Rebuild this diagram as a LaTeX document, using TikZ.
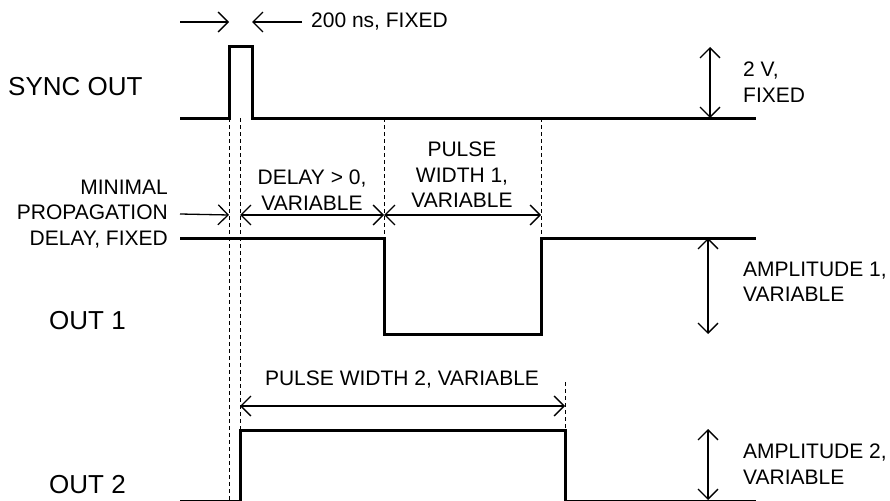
\documentclass[tikz,border=0pt]{standalone}
\usepackage{fontspec}
\setmainfont{Liberation Sans}
\usetikzlibrary{arrows.meta}
\usetikzlibrary{positioning}
\tikzset{
	wave/.style={line width=3pt, line join=miter},
	guide/.style={line width=0.9pt, dash pattern=on 4pt off 3pt},
	dim/.style={line width=1.3pt},
	barb/.tip={Straight Barb[length=10pt 0, width=20pt 0, line width=1.3pt]},
	dimto/.style={dim, -barb},
	dimboth/.style={dim, barb-barb},
	siglabel/.style={font=\fontsize{26}{30}\selectfont, inner sep=0pt, anchor=west},
	note/.style={font=\fontsize{21}{25.5}\selectfont, inner sep=0pt}
}

\begin{document}
\begin{tikzpicture}[x=1pt, y=-1pt]
		\useasboundingbox (0,0) rectangle (890,500);
		% waveforms
		\draw[wave] (180,118) -- (229,118) -- (229,47) -- (252,47) -- (252,118) -- (756,118);
		\draw[wave] (180,238) -- (384,238) -- (384,334) -- (541,334) -- (541,238) -- (756,238);
		\draw[wave] (180,501) -- (240,501) -- (240,430) -- (565,430) -- (565,501) -- (756,501);
		% timing marks
		\coordinate (t0) at (229,118);
		\coordinate (t1) at (240,118);
		\coordinate (t2) at (384,118);
		\coordinate (t3) at (541,118);
		\draw[guide] (t0) -- (229,500);
		\draw[guide] (t1) -- (240,430);
		\draw[guide] (t2) -- (384,238);
		\draw[guide] (t3) -- (541,238);
		\draw[guide] (565,382) -- (565,430);
		% labels
		\node[siglabel] (sync) at (8,87) {SYNC OUT};
		\node[siglabel] (out1) at (49,321) {OUT 1};
		\node[siglabel] (out2) at (49,485) {OUT 2};
		\node[note, anchor=west] (width0) at (311,22) {200 ns, FIXED};
		\node[note, anchor=east, align=right] (minprop) at (168,214) {MINIMAL\\PROPAGATION\\DELAY, FIXED};
		\node[note, align=center] (delay) at (312,190) {DELAY > 0,\\VARIABLE};
		\node[note, align=center] (width1) at (462,175) {PULSE\\WIDTH 1,\\VARIABLE};
		\node[note] (width2) at (402,380) {PULSE WIDTH 2, VARIABLE};
		\node[note, anchor=west, align=left] (amp0) at (743,82) {2 V,\\FIXED};
		\node[note, anchor=west, align=left] (amp1) at (743,282) {AMPLITUDE 1,\\VARIABLE};
		\node[note, anchor=west, align=left] (amp2) at (743,464) {AMPLITUDE 2,\\VARIABLE};
		% dimension arrows
		\coordinate (a0) at (180,22);
		\coordinate (a1) at (229,22);
		\coordinate (a2) at (252,22);
		\coordinate (b1) at (229,215);
		\coordinate (b2) at (240,215);
		\coordinate (b3) at (384,215);
		\coordinate (b4) at (541,215);
		\coordinate (c1) at (240,406);
		\coordinate (c2) at (565,406);
		\draw[dimto] (a0) -- (a1);
		\draw[dimto] ([xshift=-9pt]width0.west) -- (a2);
		\draw[dimto] ([xshift=12pt]minprop.east) -- (b1);
		\draw[dimboth] (b2) -- (b3);
		\draw[dimboth] (b3) -- (b4);
		\draw[dimboth] (c1) -- (c2);
		\draw[dimboth] (710,47) -- (710,118);
		\draw[dimboth] (708,238) -- (708,334);
		\draw[dimboth] (708,429) -- (708,500);
	\end{tikzpicture}
\end{document}
